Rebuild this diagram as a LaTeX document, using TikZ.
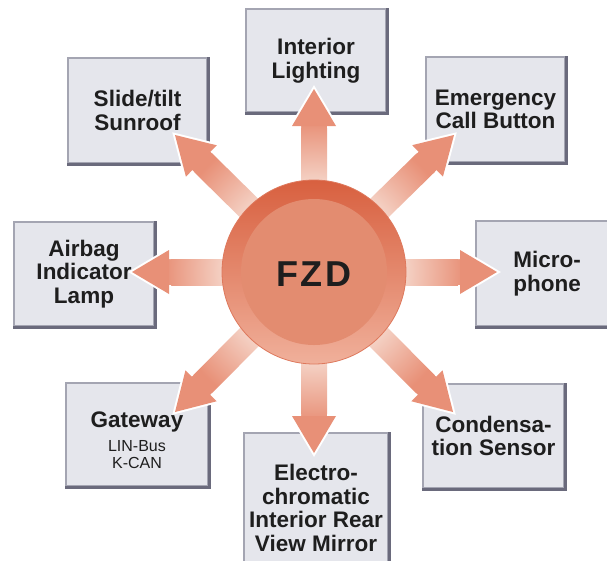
\documentclass[tikz,border=0pt]{standalone}
\usepackage{fontspec}
\setmainfont{Liberation Sans}
\usetikzlibrary{calc}
\definecolor{boxfill}{HTML}{E5E6EC}
\definecolor{boxlight}{HTML}{A4A5B2}
\definecolor{boxdark}{HTML}{6A6A7C}
\definecolor{salmon}{HTML}{E89077}
\definecolor{glowlight}{HTML}{F4D0C3}
\definecolor{ringtop}{HTML}{D8603F}
\definecolor{ringbot}{HTML}{F0B09B}
\definecolor{innerdisk}{HTML}{E38C70}
\definecolor{txt}{HTML}{1E1E1E}
\pgfdeclareradialshading{fzdglow}{\pgfpointorigin}{color(0bp)=(glowlight); color(92bp)=(glowlight); color(150bp)=(salmon); color(300bp)=(salmon)}
\newcommand\fzdarrow[1]{%
  \coordinate (#1b) at ($(#1)!37pt!(fzd.center)$);
  \coordinate (#1e) at ($(#1)!34pt!(fzd.center)$);
  \coordinate (#1s1) at ($(fzd.center)!13pt!90:(#1)$);
  \coordinate (#1s2) at ($(fzd.center)!13pt!-90:(#1)$);
  \coordinate (#1e1) at ($(#1e)!13pt!90:(#1)$);
  \coordinate (#1e2) at ($(#1e)!13pt!-90:(#1)$);
  \coordinate (#1h1) at ($(#1b)!13pt!90:(#1)$);
  \coordinate (#1h2) at ($(#1b)!22pt!90:(#1)$);
  \coordinate (#1h3) at ($(#1b)!22pt!-90:(#1)$);
  \coordinate (#1h4) at ($(#1b)!13pt!-90:(#1)$);
  \begin{scope}
    \clip (#1s1) -- (#1e1) -- (#1e2) -- (#1s2) -- cycle;
    \pgftransformshift{\pgfpointanchor{fzd}{center}}
    \pgflowlevelsynccm
    \pgfuseshading{fzdglow}
  \end{scope}
  \draw[white, line width=4pt, line join=miter] (#1h1) -- (#1h2) -- (#1) -- (#1h3) -- (#1h4);
  \fill[salmon] (#1h1) -- (#1h2) -- (#1) -- (#1h3) -- (#1h4) -- cycle;
}
\begin{document}
\begin{tikzpicture}[x=1pt,y=-1pt,
  box/.style={rectangle, fill=boxfill, draw=boxlight, line width=2pt, inner sep=0pt,
    align=center, anchor=north west, text=txt,
    font=\fontsize{22.5}{23.5}\selectfont\bfseries},
  darkedge/.style={boxdark, line width=3pt}]
\useasboundingbox (0,0) rectangle (607,560);
\fill[white] (0,0) rectangle (607,560);
% boxes
\node[box, minimum width=140, minimum height=103] (light) at (245,8) {Interior\\Lighting};
\node[box, minimum width=139, minimum height=105] (sun) at (67,57) {Slide/tilt\\Sunroof};
\node[box, minimum width=139, minimum height=105] (emer) at (425,56) {Emergency\\Call Button};
\node[box, minimum width=140, minimum height=104] (air) at (13,221) {Airbag\\Indicator\\Lamp};
\node[box, minimum width=142, minimum height=105] (mic) at (475,220) {Micro-\\phone};
\node[box, minimum width=142, minimum height=103] (gate) at (65,382) {\rule{0pt}{27pt}Gateway\\{\fontsize{16}{17}\selectfont\mdseries LIN-Bus}\\[-6.5pt]{\fontsize{16}{17}\selectfont\mdseries K-CAN}};
\node[box, minimum width=141, minimum height=104] (cond) at (422,383) {Condensa-\\tion Sensor};
\node[box, minimum width=144, minimum height=150] (mirr) at (243,432) {Electro-\\chromatic\\Interior Rear\\View Mirror};
\foreach \n in {light,sun,emer,air,mic,gate,cond,mirr}
  \draw[darkedge] (\n.south west) -- (\n.south east) -- (\n.north east);
% centre hub (geometry reference)
\path (314,272) node[circle, minimum size=184, inner sep=0pt] (fzd) {};
% arrow tips
\coordinate (tU) at (314,89);
\coordinate (tD) at (314,453);
\coordinate (tL) at (132,272);
\coordinate (tR) at (497,272);
\coordinate (tUL) at (175,135);
\coordinate (tUR) at (454,135);
\coordinate (tDL) at (175,412);
\coordinate (tDR) at (453,412);
\fzdarrow{tU}
\fzdarrow{tD}
\fzdarrow{tL}
\fzdarrow{tR}
\fzdarrow{tUL}
\fzdarrow{tUR}
\fzdarrow{tDL}
\fzdarrow{tDR}
% hub
\node[circle, minimum size=184, inner sep=0pt, top color=ringtop, bottom color=ringbot,
  draw=ringtop!85!white, line width=0.8pt] (ring) at (fzd.center) {};
\node[circle, minimum size=146, inner sep=0pt, fill=innerdisk] (disk) at (fzd.center) {};
\node[text=txt, font=\fontsize{36}{36}\selectfont\bfseries, inner sep=0pt] (lab) at (314,274.5) {F\kern2.5pt Z\kern2.5pt D};
\end{tikzpicture}
\end{document}
